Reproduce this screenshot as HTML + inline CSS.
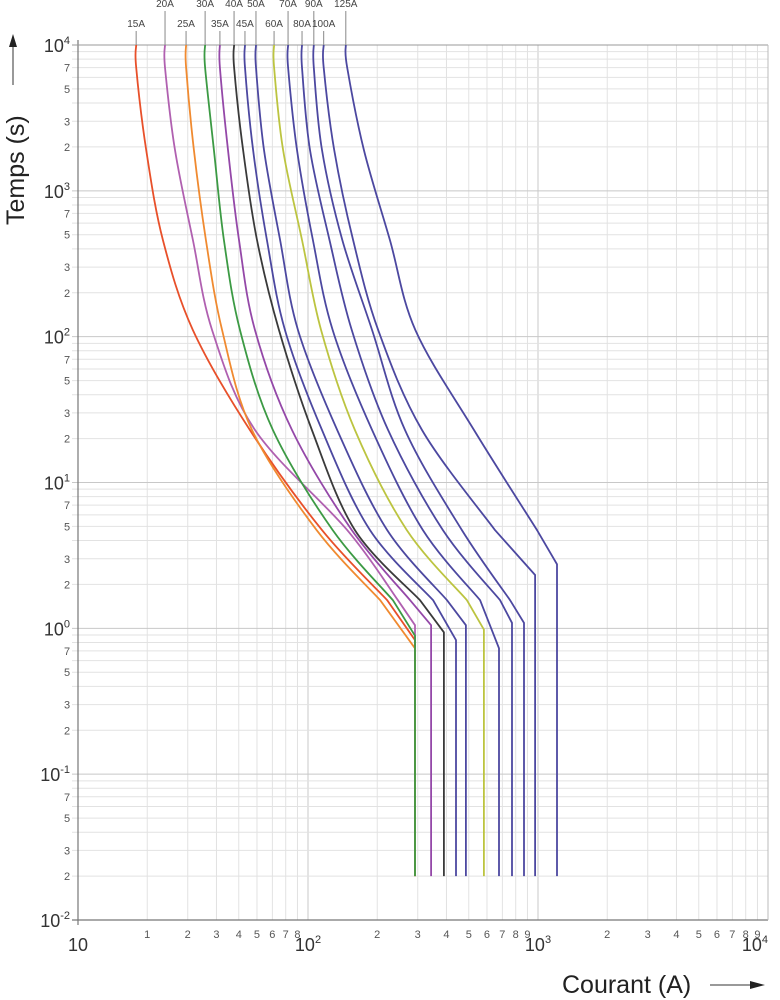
<!DOCTYPE html>
<html><head><meta charset="utf-8"><style>
body{margin:0;background:#fff;}
svg{display:block;font-family:"Liberation Sans",sans-serif;}
</style></head><body>
<svg id="chart" width="780" height="1000" viewBox="0 0 780 1000" xmlns="http://www.w3.org/2000/svg">
<g id="grid"></g>
<g id="axes"></g>
<g id="curves"></g>
<g id="labels"></g>
<text x="0" y="0" transform="translate(24,225) rotate(-90)" font-size="25" fill="#222">Temps (s)</text>
<line x1="13" y1="85" x2="13" y2="44" stroke="#333" stroke-width="1"/>
<polygon points="13,34 9,47 17,47" fill="#222"/>
<text x="562" y="993" font-size="25" fill="#222">Courant (A)</text>
<line x1="710" y1="985" x2="752" y2="985" stroke="#333" stroke-width="1"/>
<polygon points="765,985 750,981 750,989" fill="#222"/>
</svg>
<script>
// ---- data ----
const curveNames = ["15A","20A","25A","30A","35A","40A","45A","50A","60A","70A","80A","90A","100A","125A"];
const curveColors = ["#e8502a","#b060b0","#f08a30","#3c9a44","#9448a8","#3a3a3a","#4c48a0","#4c48a0","#bcc440","#4c48a0","#4c48a0","#4c48a0","#4c48a0","#4c48a0"];
const times = [10000, 7000, 1905, 460, 111, 22.9, 4.72, 1.56];
const cur15 = [17.9, 17.9, 19.8, 23.4, 31.6, 55.9, 115, 221];
const cur20 = [23.9, 23.9, 26.4, 31.6, 38.3, 58.8, 148, 246];
const cur25 = [29.5, 29.5, 31.9, 36.0, 42.3, 57.1, 109, 206];
const cur30 = [35.7, 35.7, 39.0, 43.1, 50.6, 70.4, 128, 234];
const cur35 = [41.4, 41.4, 44.9, 50.1, 58.8, 85.2, 155, 278];
const cur40 = [47.7, 47.7, 52.2, 60.0, 74.8, 104, 160, 307];
const cur45 = [53.2, 53.2, 57.7, 66.3, 79.4, 115, 186, 350];
const cur50 = [59.4, 59.4, 64.4, 75.6, 90.5, 134, 221, 402];
const cur60 = [71.2, 71.2, 77.9, 94.2, 114, 160, 269, 491];
const cur70 = [81.9, 81.9, 89.6, 105, 128, 190, 316, 560];
const cur80 = [94.2, 94.2, 102, 124, 155, 223, 386, 684];
const cur90 = [106, 106, 115, 141, 190, 264, 467, 756];
const cur100 = [117, 117, 130, 157, 202, 313, 650, null];
const cur125 = [146, 148, 175, 227, 293, 527, 990, null];
const tripCurrent = [292, 292, 292, 292, 343, 390, 440, 486, 582, 677, 771, 869, 971, 1210];
const tripTime = [0.83, 1.05, 0.73, 0.89, 1.05, 0.94, 0.83, 1.05, 0.98, 0.73, 1.09, 1.09, 2.32, 2.75];
const minTime = 0.02;
const labelRow = [1,0,1,0,1,0,1,0,1,0,1,0,1,0];
const xMajorLabels = ["10","10²","10³","10⁴"];
const yMajorExp = ["-2","-1","0","1","2","3","4"];

// ---- scales ----
const X0=78, X1=768, Y0=920, Y1=45;
const xs = v => X0 + (Math.log10(v)-1)/3*(X1-X0);
const ys = v => Y0 - (Math.log10(v)+2)/6*(Y0-Y1);
const NS="http://www.w3.org/2000/svg";
function mk(tag, attrs, parent){const e=document.createElementNS(NS,tag);for(const k in attrs)e.setAttribute(k,attrs[k]);parent.appendChild(e);return e;}
const grid=document.getElementById('grid'), axes=document.getElementById('axes'), cg=document.getElementById('curves'), lg=document.getElementById('labels');

// grid
for(let d=1; d<4; d++){
  for(let m=1; m<10; m++){
    const v=Math.pow(10,d)*m; const x=xs(v);
    const l=mk('line',{x1:x,y1:Y1,x2:x,y2:Y0,stroke:m===1?'#c8c8c8':'#e2e2e2','stroke-width':1},grid);
    
    
  }
}
for(let d=-2; d<4; d++){
  for(let m=1; m<10; m++){
    const v=Math.pow(10,d)*m; const y=ys(v);
    const l=mk('line',{x1:72,y1:y,x2:X1,y2:y,stroke:m===1?'#c8c8c8':'#e2e2e2','stroke-width':1},grid);
    
    
  }
}
// frame
mk('line',{x1:X0,y1:Y1-5,x2:X0,y2:Y0+5,stroke:'#777','stroke-width':1.2},axes);
mk('line',{x1:X0-6,y1:Y0,x2:X1,y2:Y0,stroke:'#777','stroke-width':1.2},axes);
mk('line',{x1:X0-6,y1:Y1,x2:X1,y2:Y1,stroke:'#999','stroke-width':1},axes);
mk('line',{x1:X1,y1:Y1,x2:X1,y2:Y0,stroke:'#bbb','stroke-width':1},axes);

// y labels
for(let i=0;i<yMajorExp.length;i++){
  const y=ys(Math.pow(10,+yMajorExp[i]));
  const t=mk('text',{x:70,y:y+7,'text-anchor':'end','font-size':18,fill:'#333'},axes);
  
  
  t.innerHTML='10<tspan dy="-8" font-size="11">'+yMajorExp[i]+'</tspan>';
  if(i<yMajorExp.length-1){
    [2,3,5,7].forEach(m=>{
      const yy=ys(Math.pow(10,+yMajorExp[i])*m);
      const s=mk('text',{x:67,y:yy+4,'text-anchor':'middle','font-size':11,fill:'#555'},axes);
      
      
      s.textContent=m;
    });
  }
}
// x labels
xMajorLabels.forEach((lab,i)=>{
  const x=xs(Math.pow(10,i+1));
  const t=mk('text',{x:x,y:951,'text-anchor':i===3?'end':'middle','font-size':18,fill:'#333'},axes);
  
  
  if(i===0) t.textContent='10'; else t.innerHTML='10<tspan dy="-8" font-size="11">'+(i+1)+'</tspan>';
});
for(let d=1; d<4; d++){
  for(let m=1;m<10;m++){
    if(d===1 && m>8) break;
    if(d>1 && m===1) continue;
    const val = d===1 ? m+1 : m; // first decade labels are shifted in the reference
    const x=xs(Math.pow(10,d)*val);
    const t=mk('text',{x:x,y:938,'text-anchor':'middle','font-size':11,fill:'#555'},axes);
    
    
    t.textContent=m;
  }
}

// curves
const allCur=[cur15,cur20,cur25,cur30,cur35,cur40,cur45,cur50,cur60,cur70,cur80,cur90,cur100,cur125];
function smoothPath(pts){
  let d='M'+pts[0][0].toFixed(1)+','+pts[0][1].toFixed(1);
  for(let i=0;i<pts.length-1;i++){
    const p0=pts[Math.max(0,i-1)],p1=pts[i],p2=pts[i+1],p3=pts[Math.min(pts.length-1,i+2)];
    const c1=[p1[0]+(p2[0]-p0[0])/6,p1[1]+(p2[1]-p0[1])/6];
    const c2=[p2[0]-(p3[0]-p1[0])/6,p2[1]-(p3[1]-p1[1])/6];
    d+=' C'+c1[0].toFixed(1)+','+c1[1].toFixed(1)+' '+c2[0].toFixed(1)+','+c2[1].toFixed(1)+' '+p2[0].toFixed(1)+','+p2[1].toFixed(1);
  }
  return d;
}
allCur.forEach((arr,i)=>{
  const pts=[];
  arr.forEach((v,j)=>{ if(v!==null) pts.push([xs(v),ys(times[j])]); });
  let d=smoothPath(pts);
  d+=' L'+xs(tripCurrent[i]).toFixed(1)+','+ys(tripTime[i]).toFixed(1);
  d+=' L'+xs(tripCurrent[i]).toFixed(1)+','+ys(minTime).toFixed(1);
  const p=mk('path',{d:d,fill:'none',stroke:curveColors[i],'stroke-width':1.8,'stroke-linejoin':'miter'},cg);
  
  
  const x=xs(arr[0]);
  const ty = labelRow[i]===1 ? 27 : 7;
  const ll=mk('line',{x1:x,y1:ty+4,x2:x,y2:Y1,stroke:'#888','stroke-width':1},lg);
  
  
  const t=mk('text',{x:x,y:ty,'text-anchor':'middle','font-size':10,fill:'#444'},lg);
  
  
  t.textContent=curveNames[i];
});
</script>
</body></html>
